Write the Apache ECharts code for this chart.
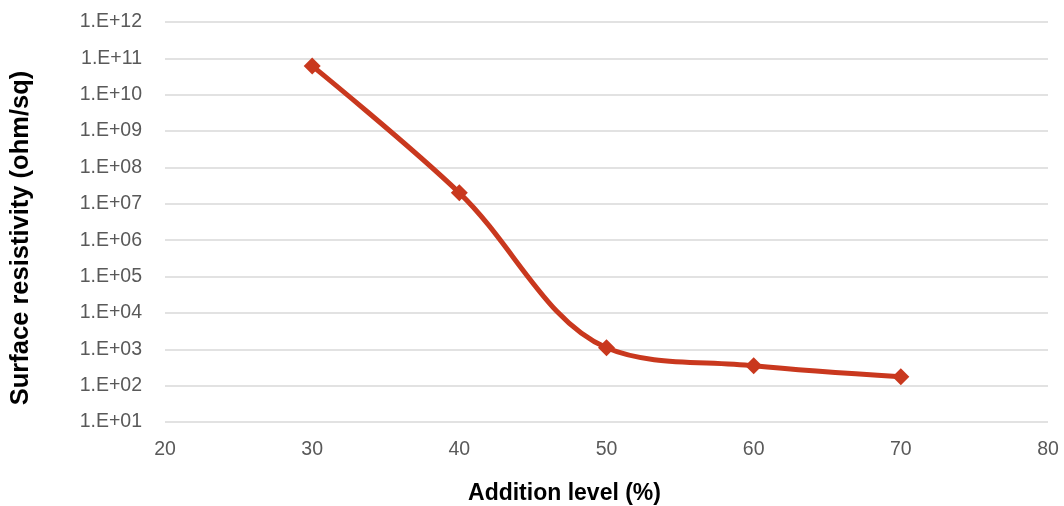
<!DOCTYPE html>
<html>
<head>
<meta charset="utf-8">
<script src="https://cdn.jsdelivr.net/npm/echarts@6/dist/echarts.min.js"></script>
<style>html,body{margin:0;padding:0;background:#fff}#c{width:1064px;height:506px}</style>
</head>
<body>
<div id="c"></div>
<script>
var additionLevel = [30, 40, 50, 60, 70];
var resistivity = [6.2e10, 2.0e7, 1.1e3, 3.5e2, 1.75e2];
var xTicks = [20, 30, 40, 50, 60, 70, 80];

var chart = echarts.init(document.getElementById('c'));
var font = 'Liberation Sans, Arial, sans-serif';
chart.setOption({
  animation: false,
  grid: {left: 165, right: 16, top: 22, bottom: 84, containLabel: false, outerBoundsMode: 'none'},
  xAxis: {
    type: 'value', min: xTicks[0], max: xTicks[xTicks.length - 1], interval: 10,
    name: 'Addition level (%)', nameLocation: 'middle', nameGap: 60,
    nameTextStyle: {fontFamily: font, fontSize: 23, fontWeight: 'bold', color: '#000', padding: [0, 84, 0, 0]},
    axisLine: {show: false}, axisTick: {show: false},
    splitLine: {show: false},
    axisLabel: {fontFamily: font, fontSize: 19.5, color: '#595959', margin: 18}
  },
  yAxis: {
    type: 'log', logBase: 10, min: 10, max: 1e12, interval: 1,
    name: 'Surface resistivity (ohm/sq)', nameLocation: 'middle', nameGap: 131, nameRotate: 90,
    nameTextStyle: {fontFamily: font, fontSize: 25.5, fontWeight: 'bold', color: '#000', padding: [0, 32, 0, 0]},
    axisLine: {show: false}, axisTick: {show: false},
    splitLine: {show: true, lineStyle: {color: '#d9d9d9', width: 1.5}},
    axisLabel: {
      fontFamily: font, fontSize: 19.5, color: '#595959', margin: 23,
      formatter: function (v) {
        var e = Math.round(Math.log10(v));
        return '1.E+' + (e < 10 ? '0' + e : e);
      }
    }
  },
  series: [{
    type: 'line',
    data: additionLevel.map(function (x, i) { return [x, resistivity[i]]; }),
    smooth: 0.35,
    symbol: 'diamond', symbolSize: 17,
    lineStyle: {color: '#C9381E', width: 5},
    itemStyle: {color: '#C9381E'}
  }]
});
</script>
</body>
</html>
